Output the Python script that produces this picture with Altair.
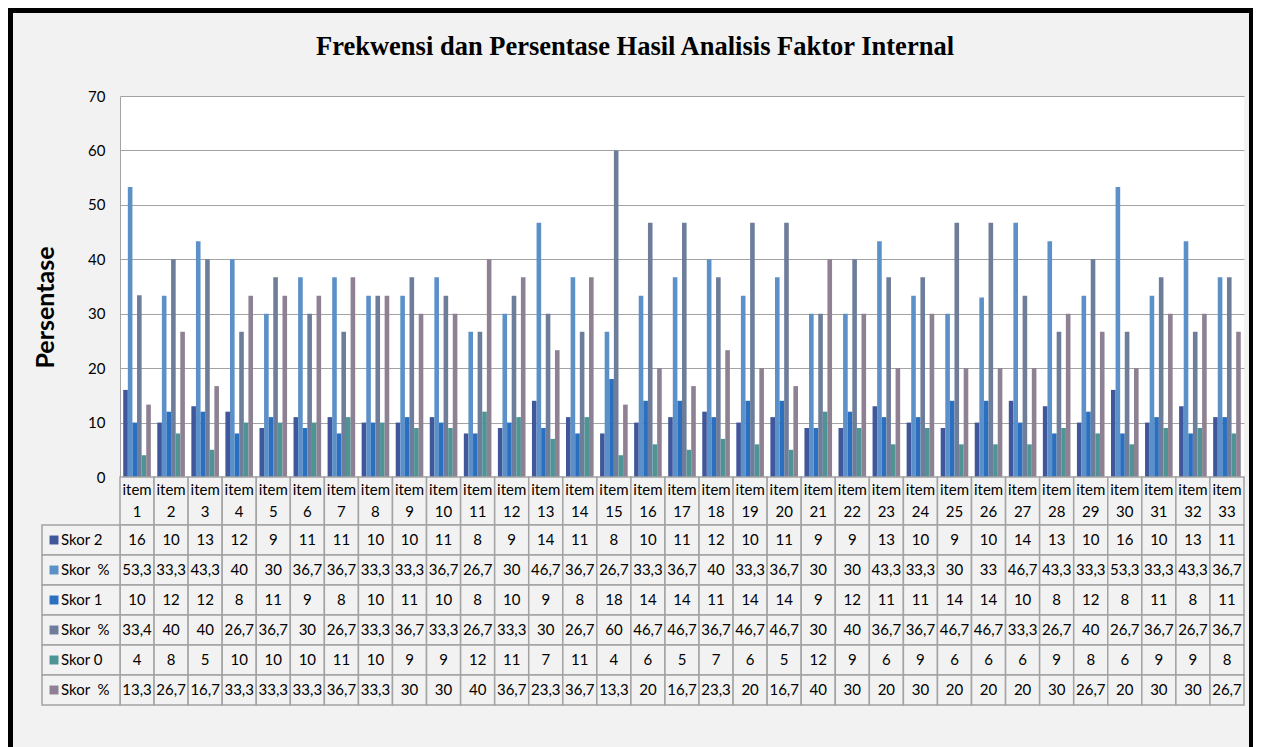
import altair as alt
import pandas as pd

# ---------------- data ----------------
items = [f"item {i}" for i in range(1, 34)]
item_nums = [str(i) for i in range(1, 34)]

series_keys = ["s2", "p2", "s1", "p1", "s0", "p0"]
series_names = ["Skor 2", "Skor\u00a0\u00a0%", "Skor 1", "Skor\u00a0\u00a0%", "Skor 0", "Skor\u00a0\u00a0%"]

skor2 = [16, 10, 13, 12, 9, 11, 11, 10, 10, 11, 8, 9, 14, 11, 8, 10, 11, 12, 10, 11, 9, 9, 13, 10, 9, 10, 14, 13, 10, 16, 10, 13, 11]
pct2 = [53.3, 33.3, 43.3, 40, 30, 36.7, 36.7, 33.3, 33.3, 36.7, 26.7, 30, 46.7, 36.7, 26.7, 33.3, 36.7, 40, 33.3, 36.7, 30, 30, 43.3, 33.3, 30, 33, 46.7, 43.3, 33.3, 53.3, 33.3, 43.3, 36.7]
skor1 = [10, 12, 12, 8, 11, 9, 8, 10, 11, 10, 8, 10, 9, 8, 18, 14, 14, 11, 14, 14, 9, 12, 11, 11, 14, 14, 10, 8, 12, 8, 11, 8, 11]
pct1 = [33.4, 40, 40, 26.7, 36.7, 30, 26.7, 33.3, 36.7, 33.3, 26.7, 33.3, 30, 26.7, 60, 46.7, 46.7, 36.7, 46.7, 46.7, 30, 40, 36.7, 36.7, 46.7, 46.7, 33.3, 26.7, 40, 26.7, 36.7, 26.7, 36.7]
skor0 = [4, 8, 5, 10, 10, 10, 11, 10, 9, 9, 12, 11, 7, 11, 4, 6, 5, 7, 6, 5, 12, 9, 6, 9, 6, 6, 6, 9, 8, 6, 9, 9, 8]
pct0 = [13.3, 26.7, 16.7, 33.3, 33.3, 33.3, 36.7, 33.3, 30, 30, 40, 36.7, 23.3, 36.7, 13.3, 20, 16.7, 23.3, 20, 16.7, 40, 30, 20, 30, 20, 20, 20, 30, 26.7, 20, 30, 30, 26.7]

series_values = [skor2, pct2, skor1, pct1, skor0, pct0]
colors = ["#40579C", "#5B90C8", "#2A6FC0", "#6D7D9A", "#4E9495", "#8E8193"]

title_text = "Frekwensi dan Persentase Hasil Analisis Faktor Internal"
y_title = "Persentase"
y_ticks = [0, 10, 20, 30, 40, 50, 60, 70]


def fmt(v):
    return f"{v:g}".replace(".", ",")


# ---------------- tables for the library ----------------
bars_df = pd.DataFrame(
    [
        {"item": it, "key": k, "value": vals[i], "label": fmt(vals[i])}
        for k, vals in zip(series_keys, series_values)
        for i, it in enumerate(items)
    ]
)
hdr_df = pd.DataFrame({"item": items, "h": "h", "label": [f"item\n{n}" for n in item_nums]})
lab_df = pd.DataFrame({"key": series_keys, "name": series_names})
title_df = pd.DataFrame({"t": [title_text]})

# ---------------- layout constants ----------------
W = 1124
H_BAR = 381
H_HDR = 48
H_ROW = 30
H = H_BAR + H_HDR + 6 * H_ROW
FONT = "Lato"
GRID = "#A3A3A3"
BG = "#F2F2F2"

x_enc = alt.X(
    "item:N",
    sort=items,
    scale=alt.Scale(domain=items, paddingInner=0, paddingOuter=0),
    axis=None,
)
color_enc = alt.Color(
    "key:N", scale=alt.Scale(domain=series_keys, range=colors), legend=None
)
row_y = alt.Y(
    "key:N",
    sort=series_keys,
    scale=alt.Scale(
        domain=series_keys, range=[H_BAR + H_HDR, H], paddingInner=0, paddingOuter=0
    ),
    axis=None,
)

bars = (
    alt.Chart(bars_df)
    .mark_bar()
    .encode(
        x=x_enc,
        xOffset=alt.XOffset(
            "key:N",
            sort=series_keys,
            scale=alt.Scale(domain=series_keys, paddingInner=0, paddingOuter=0.7),
        ),
        y=alt.Y(
            "value:Q",
            scale=alt.Scale(domain=[0, 70], range=[H_BAR, 0], nice=False, zero=True),
            axis=alt.Axis(
                values=y_ticks,
                title=y_title,
                grid=True,
                gridColor=GRID,
                gridWidth=1,
                domainColor=GRID,
                domainWidth=1,
                ticks=False,
                labelPadding=15,
                labelFont=FONT,
                labelFontSize=15,
                labelColor="#000000",
                titleFont=FONT,
                titleFontSize=25,
                titleFontWeight="bold",
                titleColor="#000000",
                titleX=-75,
                titleY=211,
                titleAngle=-90,
                titleAlign="center",
                titleBaseline="middle",
            ),
        ),
        color=color_enc,
    )
)

hdr_y = alt.Y(
    "h:N",
    scale=alt.Scale(domain=["h"], range=[H_BAR, H_BAR + H_HDR], paddingInner=0, paddingOuter=0),
    axis=None,
)
hdr_rect = (
    alt.Chart(hdr_df)
    .mark_rect(fill=BG, stroke=GRID, strokeWidth=1.5)
    .encode(x=x_enc, y=hdr_y)
)
hdr_text = (
    alt.Chart(hdr_df)
    .mark_text(lineBreak="\n", lineHeight=22, font=FONT, fontSize=15, color="#000000",
               baseline="middle", dy=-11)
    .encode(x=x_enc, y=hdr_y, text="label:N")
)

cell_rect = (
    alt.Chart(bars_df)
    .mark_rect(fill=BG, stroke=GRID, strokeWidth=1.5)
    .encode(x=x_enc, y=row_y)
)
cell_text = (
    alt.Chart(bars_df)
    .mark_text(font=FONT, fontSize=15, color="#000000", baseline="middle")
    .encode(x=x_enc, y=row_y, text="label:N")
)

lab_rect = (
    alt.Chart(lab_df)
    .mark_rect(fill=BG, stroke=GRID, strokeWidth=1.5)
    .encode(x=alt.value(-78), x2=alt.value(0), y=row_y)
)
lab_sq = (
    alt.Chart(lab_df)
    .mark_square(size=80, opacity=1)
    .encode(x=alt.value(-66), y=row_y, color=color_enc)
)
lab_txt = (
    alt.Chart(lab_df)
    .mark_text(align="left", baseline="middle", font=FONT, fontSize=15, color="#000000")
    .encode(x=alt.value(-59), y=row_y, text="name:N")
)

title_mark = (
    alt.Chart(title_df)
    .mark_text(font="Liberation Serif", fontSize=26.5, fontWeight="bold", color="#000000",
               align="center", baseline="alphabetic")
    .encode(x=alt.value(515), y=alt.value(-41), text="t:N")
)

frame = (
    alt.Chart(title_df)
    .mark_rect(fillOpacity=0, stroke="#000000", strokeWidth=5)
    .encode(
        x=alt.value(-109.5),
        x2=alt.value(1131.5),
        y=alt.value(-85.5),
        y2=alt.value(700),
    )
)

chart = (
    alt.layer(bars, hdr_rect, hdr_text, cell_rect, cell_text, lab_rect, lab_sq, lab_txt,
              title_mark, frame)
    .resolve_scale(y="independent")
    .properties(
        width=W,
        height=H,
        padding={"left": 112, "top": 88, "right": 9, "bottom": 42},
        autosize=alt.AutoSizeParams(type="none"),
        background=BG,
    )
    .configure_view(fill="white", stroke=None)
)

chart.save("out.html", embed_options={"renderer": "svg", "actions": False})
